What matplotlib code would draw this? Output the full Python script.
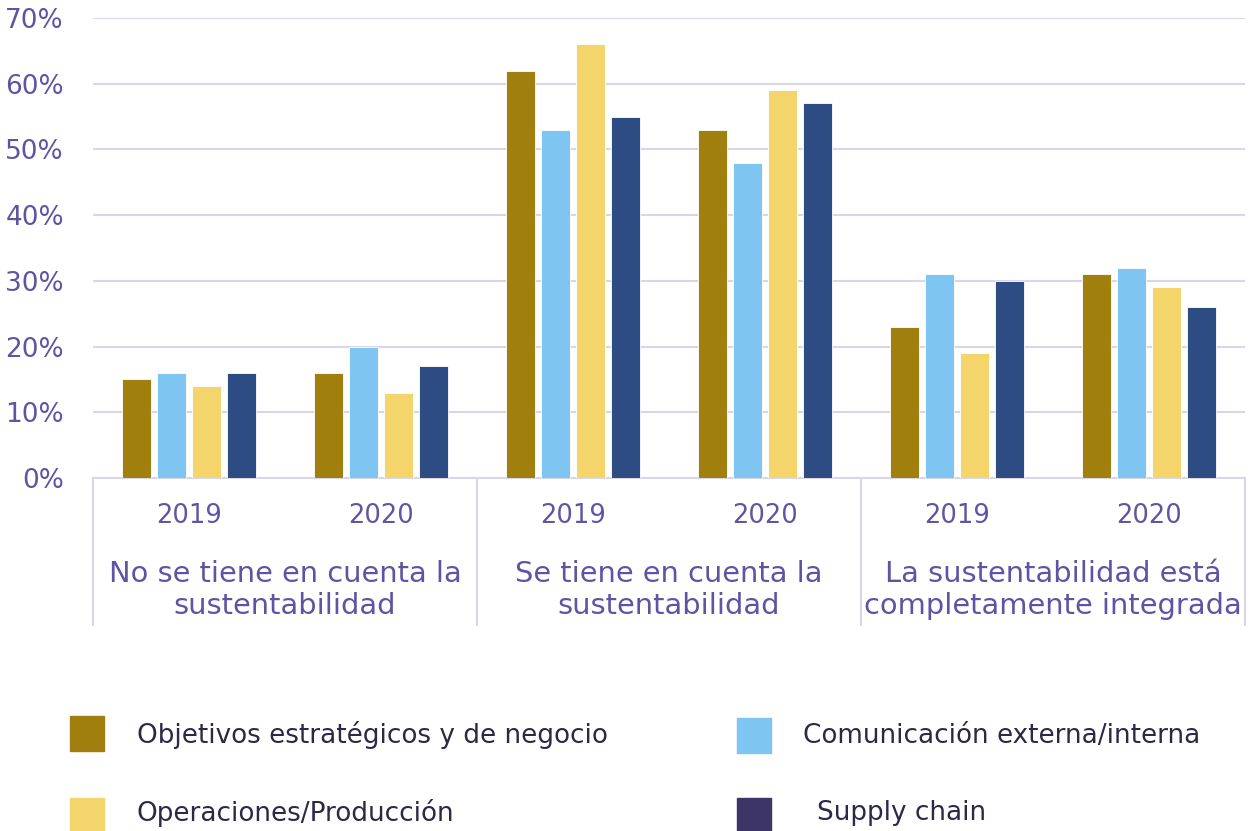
import matplotlib
matplotlib.use("Agg")
import matplotlib.pyplot as plt
from matplotlib.patches import Rectangle
import matplotlib.transforms as mtransforms
import numpy as np

plt.rcParams['font.family'] = ['DejaVu Sans']

# ---- data ----
years = ["2019", "2020", "2019", "2020", "2019", "2020"]
groups = ["No se tiene en cuenta la\nsustentabilidad",
          "Se tiene en cuenta la\nsustentabilidad",
          "La sustentabilidad está\ncompletamente integrada"]
series_names = ["Objetivos estratégicos y de negocio",
                "Comunicación externa/interna",
                "Operaciones/Producción",
                "Supply chain"]
objetivos = [15, 16, 62, 53, 23, 31]
comunicacion = [16, 20, 53, 48, 31, 32]
operaciones = [14, 13, 66, 59, 19, 29]
supply = [16, 17, 55, 57, 30, 26]
yticks = [0, 10, 20, 30, 40, 50, 60, 70]

series = [objetivos, comunicacion, operaciones, supply]
colors = ["#A07F0E", "#7FC5F2", "#F3D56C", "#2E4C84"]
legend_colors = ["#A07F0E", "#7FC5F2", "#F3D56C", "#3D3566"]
label_color = "#5F54A3"
legend_text_color = "#2B2946"
grid_color = "#D9D5EA"

W, H = 1252, 831
fig = plt.figure(figsize=(W / 100, H / 100), dpi=100)
ax_l, ax_r, ax_t, ax_b = 93, 1245, 18, 478
ax = fig.add_axes([ax_l / W, 1 - ax_b / H, (ax_r - ax_l) / W, (ax_b - ax_t) / H])

x = np.arange(len(years))
pitch = 0.1823
width = 0.146
for i, (vals, c) in enumerate(zip(series, colors)):
    ax.bar(x + (i - 1.5) * pitch, vals, width=width, color=c,
           edgecolor="white", linewidth=0.6, zorder=3)

ax.set_xlim(-0.5, len(years) - 0.5)
ax.set_ylim(0, 70)
ax.set_yticks(yticks)
ax.set_yticklabels([f"{v}%" for v in yticks], color=label_color, fontsize=19)
ax.tick_params(axis='y', length=0, pad=21)
ax.set_xticks([])
ax.yaxis.grid(True, color=grid_color, linewidth=1.5, zorder=0)
for s in ["top", "right", "left"]:
    ax.spines[s].set_visible(False)
ax.spines["bottom"].set_color(grid_color)
ax.spines["bottom"].set_linewidth(1.5)

trans = mtransforms.blended_transform_factory(ax.transData, ax.transAxes)
axh = ax_b - ax_t
for xi, yr in zip(x, years):
    ax.text(xi, -(516 - ax_b) / axh, yr, transform=trans, ha='center', va='center',
            fontsize=18.5, color=label_color)
for gi, g in enumerate(groups):
    ax.text(2 * gi + 0.5, -(590 - ax_b) / axh, g, transform=trans, ha='center',
            va='center', fontsize=20.8, color=label_color, linespacing=1.15)
for xs in [-0.5, 1.5, 3.5, 5.5]:
    ax.plot([xs, xs], [0, -(625 - ax_b) / axh], transform=trans, color=grid_color,
            linewidth=1.5, clip_on=False)

# ---- legend ----
leg_pos = [(70, 716, 137, 735), (737, 718, 803, 736),
           (70, 798, 137, 813), (737, 798, 817, 813)]
for (sx, sy, tx, ty), name, c in zip(leg_pos, series_names, legend_colors):
    fig.patches.append(Rectangle((sx / W, 1 - (sy + 35) / H), 34 / W, 35 / H,
                                 transform=fig.transFigure, color=c))
    fig.text(tx / W, 1 - ty / H, name, ha='left', va='center', fontsize=18.9,
             color=legend_text_color)

fig.savefig("out.png", dpi=100)
